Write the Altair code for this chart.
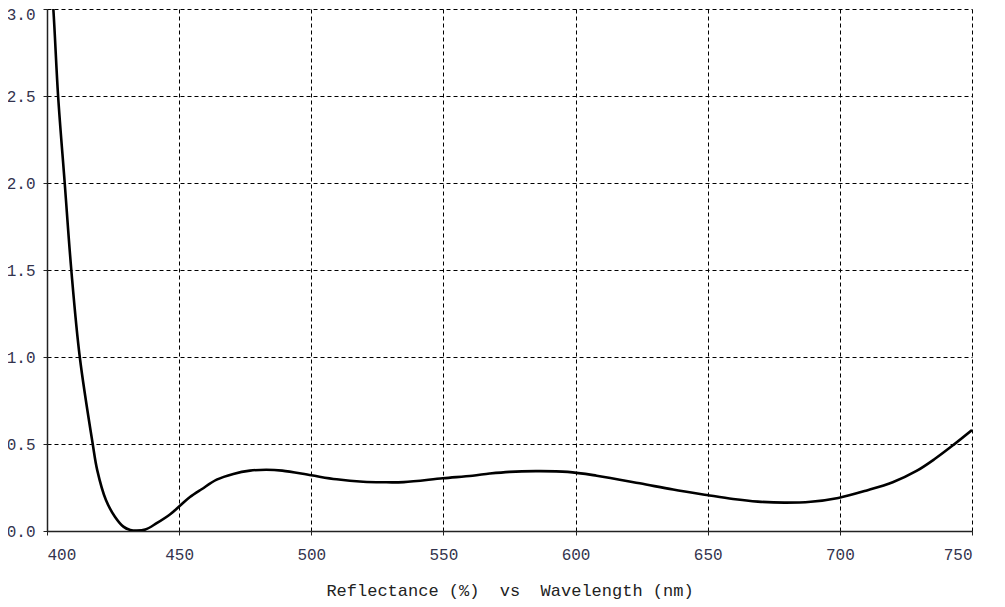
import altair as alt
import pandas as pd

wavelength = [400.0, 402.4, 404.2, 406.7, 409.2, 412.4, 417.3, 419.0, 422.3, 425.7, 428.9,
              431.5, 434.0, 437.2, 441.5, 446.5, 450.3, 454.1, 458.5, 464.2, 470.5, 476.8,
              483.0, 489.0, 500.0, 509.6, 519.6, 527.0, 535.0, 549.8, 561.0, 567.5, 575.0,
              585.0, 597.0, 608.0, 624.3, 636.9, 649.6, 659.6, 669.0, 679.0, 689.0, 699.4,
              710.2, 720.0, 729.0, 736.0, 743.0, 750.0]
reflectance = [3.50, 3.00, 2.50, 2.00, 1.50, 1.00, 0.50, 0.35, 0.178, 0.082, 0.025,
               0.006, 0.002, 0.008, 0.045, 0.095, 0.145, 0.195, 0.24, 0.295, 0.328, 0.347,
               0.352, 0.347, 0.32, 0.297, 0.283, 0.28, 0.281, 0.303, 0.318, 0.33, 0.34,
               0.344, 0.34, 0.318, 0.274, 0.238, 0.207, 0.184, 0.169, 0.163, 0.168, 0.19,
               0.233, 0.28, 0.345, 0.415, 0.495, 0.58]

x_ticks = [400, 450, 500, 550, 600, 650, 700, 750]
y_ticks = [0.0, 0.5, 1.0, 1.5, 2.0, 2.5, 3.0]
title_text = "Reflectance (%)\u00a0\u00a0vs\u00a0\u00a0Wavelength (nm)"

df = pd.DataFrame({"wl": wavelength, "r": reflectance})

FONT = "Liberation Mono"
LABEL_COLOR = "#33334d"

chart = alt.Chart(df).mark_line(
    color="black", strokeWidth=2.6, interpolate="catmull-rom", clip=True
).encode(
    x=alt.X("wl:Q",
            scale=alt.Scale(domain=[400, 750], nice=False, zero=False),
            axis=alt.Axis(values=x_ticks, format="d", title=title_text,
                          titleFont=FONT, titleFontSize=17, titleFontWeight="normal",
                          titleColor="#222222", titleBaseline="alphabetic",
                          titleY=64, titleX=462.5, titleAlign="center",
                          labelBaseline="alphabetic", labelPadding=24)),
    y=alt.Y("r:Q",
            scale=alt.Scale(domain=[0, 3], nice=False),
            axis=alt.Axis(values=y_ticks, format=".1f", title=None,
                          labelPadding=8,
                          labelOffset={"condition": {"test": "datum.value >= 3", "value": 5},
                                       "value": 0})),
).properties(
    width=925,
    height=522,
    autosize=alt.AutoSizeParams(type="none"),
    padding={"left": 39, "top": 1, "right": 25, "bottom": 70},
).configure_view(
    strokeWidth=0
).configure_axis(
    grid=True,
    gridColor="black",
    gridDash=[4, 3],
    gridWidth=1,
    gridOpacity=1,
    domainColor="#222222",
    domainWidth=1.5,
    tickColor="#222222",
    tickSize=4,
    labelFont=FONT,
    labelFontSize=16,
    labelColor=LABEL_COLOR,
)

chart.save("out.html", embed_options={"renderer": "svg", "actions": False})
